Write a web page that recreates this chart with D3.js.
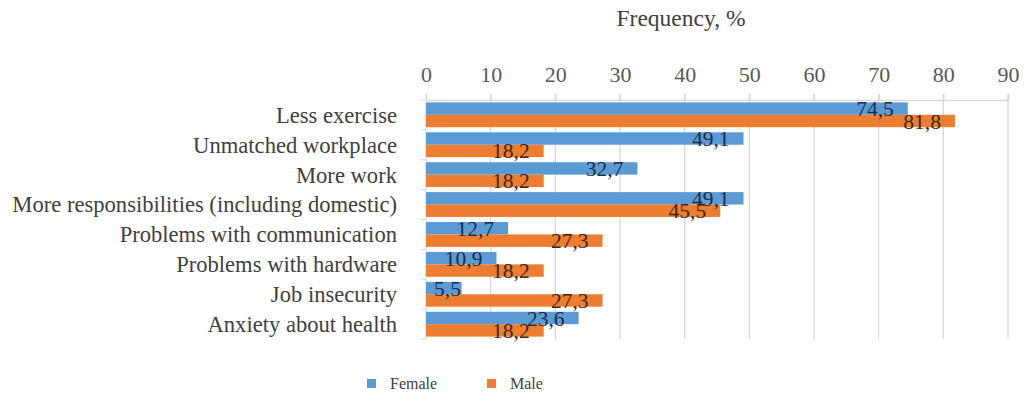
<!DOCTYPE html>
<html><head><meta charset="utf-8">
<script src="https://cdn.jsdelivr.net/npm/d3@7"></script>
<style>body{margin:0;background:#fff}svg{display:block}</style>
</head><body><svg id="c" width="1025" height="401"></svg>
<script>
const categories = ["Less exercise","Unmatched workplace","More work","More responsibilities (including domestic)","Problems with communication","Problems with hardware","Job insecurity","Anxiety about health"];
const female = [74.5,49.1,32.7,49.1,12.7,10.9,5.5,23.6];
const male = [81.8,18.2,18.2,45.5,27.3,18.2,27.3,18.2];
const seriesNames = ["Female","Male"];
const tickValues = [0,10,20,30,40,50,60,70,80,90];
const axisTitle = "Frequency, %";

const FF = "'Liberation Serif', 'DejaVu Serif', serif";
const colors = {Female:"#5B9BD5", Male:"#ED7D31"};
const labelColors = {Female:"#1d2c44", Male:"#3d2814"};
const svg = d3.select("#c");
const m = {left:426, right:1008, top:100, bottom:339};
const x = d3.scaleLinear().domain([0,90]).range([m.left,m.right]);
const y = d3.scaleBand().domain(categories).range([m.top,m.bottom]).paddingInner(0.17).paddingOuter(0.08);
const ys = d3.scaleBand().domain(seriesNames).range([0,y.bandwidth()]);

svg.append("g").selectAll("line").data(tickValues.slice(1)).join("line")
  .attr("x1",d=>x(d)).attr("x2",d=>x(d)).attr("y1",m.top-6).attr("y2",m.bottom)
  .attr("stroke","#d9d9d9").attr("stroke-width",1.3);
const ax = svg.append("g").attr("transform",`translate(0,${m.top})`)
  .call(d3.axisTop(x).tickValues(tickValues).tickSize(6).tickPadding(12).tickFormat(d3.format("d")));
ax.attr("font-family",null);
ax.select(".domain").attr("stroke","#d9d9d9").attr("stroke-width",1.3);
ax.selectAll(".tick line").attr("stroke","#d9d9d9").attr("stroke-width",1.3);
ax.selectAll(".tick text").style("font-family",FF).style("font-size","22px").attr("fill","#595959");
svg.append("line").attr("x1",x(0)).attr("x2",x(0)).attr("y1",m.top).attr("y2",m.bottom).attr("stroke","#d9d9d9");
svg.append("g").selectAll("line").data(d3.range(categories.length+1)).join("line")
  .attr("x1",x(0)-5).attr("x2",x(0)).attr("y1",i=>m.top+i*(m.bottom-m.top)/categories.length).attr("y2",i=>m.top+i*(m.bottom-m.top)/categories.length)
  .attr("stroke","#d9d9d9");

svg.append("text").attr("x",681).attr("y",26).attr("text-anchor","middle")
  .style("font-family",FF).style("font-size","23.5px").attr("fill","#404040").text(axisTitle);

svg.append("g").selectAll("text").data(categories).join("text")
  .attr("x",397).attr("y",d=>y(d)+y.bandwidth()/2).attr("dy","0.35em").attr("text-anchor","end")
  .style("font-family",FF).style("font-size","22.6px").attr("fill","#404040").text(d=>d);

const rows = [];
categories.forEach((c,i)=>{rows.push({c,s:"Female",v:female[i]});rows.push({c,s:"Male",v:male[i]});});
svg.append("g").selectAll("rect").data(rows).join("rect")
  .attr("x",x(0)).attr("y",d=>y(d.c)+ys(d.s)).attr("width",d=>x(d.v)-x(0)).attr("height",ys.bandwidth())
  .attr("fill",d=>colors[d.s]);

const fmt = v=>v.toFixed(1).replace(".",",");
const lab = svg.append("g").selectAll("text").data(rows).join("text")
  .attr("y",d=>y(d.c)+ys(d.s)+ys.bandwidth()/2).attr("dy","0.35em")
  .style("font-family",FF).style("font-size","21.5px").attr("fill",d=>labelColors[d.s]).text(d=>fmt(d.v));
lab.each(function(d){
  const w = this.getComputedTextLength();
  const xs = Math.max(x(0)+8, x(d.v)-14-w);
  d3.select(this).attr("x",xs);
});

const lg = svg.append("g");
seriesNames.forEach((s,i)=>{
  const lx = [367,487][i];
  lg.append("rect").attr("x",lx).attr("y",379).attr("width",9).attr("height",9).attr("fill",colors[s]);
  lg.append("text").attr("x",lx+23).attr("y",389).style("font-family",FF).style("font-size","16px").attr("fill","#404040").text(s);
});
</script></body></html>
